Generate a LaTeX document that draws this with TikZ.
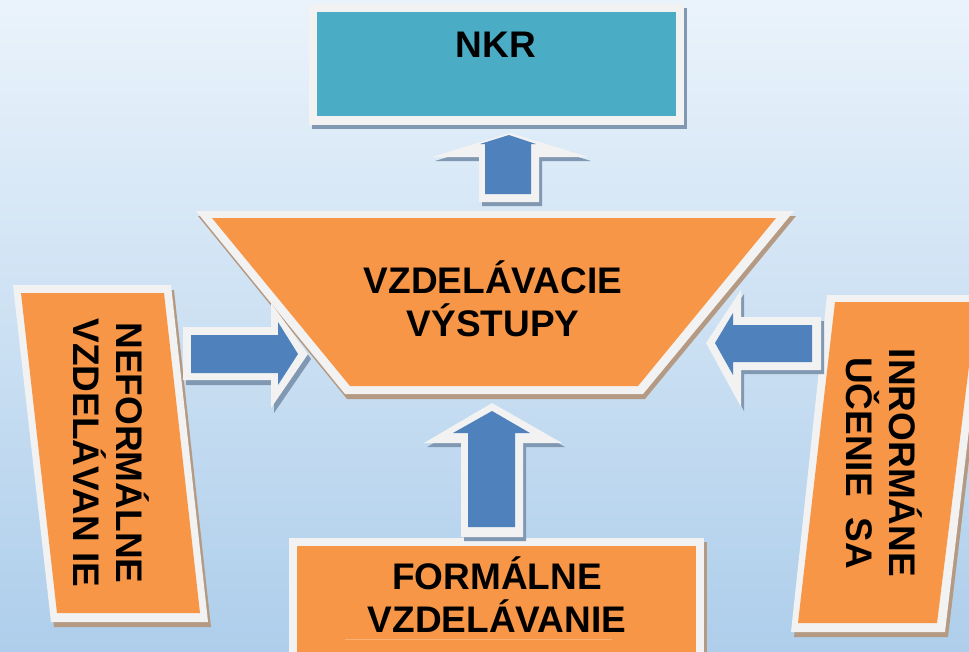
\documentclass[tikz,border=0pt]{standalone}
\usepackage{fontspec}
\setmainfont{Liberation Sans}
\definecolor{bgtop}{HTML}{EAF3FB}
\definecolor{bgbot}{HTML}{AECEEB}
\definecolor{boxorange}{HTML}{F79646}
\definecolor{boxteal}{HTML}{4BACC6}
\definecolor{arrowblue}{HTML}{4F81BD}
\definecolor{framewhite}{HTML}{F2F2F2}
\definecolor{orshadow}{HTML}{B59A83}
\definecolor{blshadow}{HTML}{8198B2}

\begin{document}
\begin{tikzpicture}[x=1pt,y=-1pt]
\tikzstyle{every node}+=[inner sep=0pt, align=center, font=\fontsize{37}{43}\selectfont\bfseries]
\useasboundingbox (0,0) rectangle (969,651);
\clip (0,0) rectangle (969,651);
\shade [top color=bgtop, bottom color=bgbot] (0,0) rectangle (969,651);
\fill [blshadow] (312,8) rectangle (687,129);
\fill [framewhite] (309,4) rectangle (684,125);
\fill [boxteal] (317,12) rectangle (676,116);
\node (nkr) at (496,45) {NKR};
\fill [orshadow, shift={(2,5)}] (196,211) -- (794,211) -- (643,394) -- (345,394) -- cycle;
\fill [framewhite] (196,211) -- (794,211) -- (643,394) -- (345,394) -- cycle;
\fill [boxorange] (212,218) -- (776,218) -- (638,386) -- (350,386) -- cycle;
\node (vystupy) at (493,299) {VZDELÁVACIE\\VÝSTUPY};
\fill [orshadow, shift={(3,5)}] (13,285) -- (171,285) -- (208,622) -- (51,622) -- cycle;
\fill [framewhite] (13,285) -- (171,285) -- (208,622) -- (51,622) -- cycle;
\fill [boxorange] (21,293) -- (164,293) -- (200,613) -- (57,613) -- cycle;
\node [rotate=-90] (neformalne) at (111,453) {NEFORMÁLNE\\VZDELÁVAN IE};
\fill [orshadow, shift={(3,5)}] (827,295) -- (985,295) -- (945,632) -- (791,632) -- cycle;
\fill [framewhite] (827,295) -- (985,295) -- (945,632) -- (791,632) -- cycle;
\fill [boxorange] (835,302) -- (977,302) -- (937,623) -- (798,623) -- cycle;
\node [rotate=-90] (informalne) at (884,463) {INRORMÁNE\\UČENIE\ \ SA};
\fill [orshadow] (292,542) rectangle (707,700);
\fill [framewhite] (289,538) rectangle (704,700);
\fill [boxorange] (297,546) rectangle (696,700);
\draw [boxorange!75!white, line width=0.4pt] (345,639) -- (612,639);
\node (formalne) at (497,595) {FORMÁLNE\\VZDELÁVANIE};
\fill [blshadow, shift={(3,4)}] (479,202) -- (479,157) -- (432,157) -- (510,133) -- (588,157) -- (539,157) -- (539,202) -- cycle;
\fill [framewhite] (479,202) -- (479,157) -- (432,157) -- (510,133) -- (588,157) -- (539,157) -- (539,202) -- cycle;
\fill [arrowblue] (485,194) -- (485,144) -- (480,144) -- (509,135) -- (536,144) -- (531,144) -- (531,194) -- cycle;
\fill [blshadow, shift={(3,5)}] (183,327) -- (271,327) -- (271,303) -- (308,354) -- (271,408) -- (271,380) -- (183,380) -- cycle;
\fill [framewhite] (183,327) -- (271,327) -- (271,303) -- (308,354) -- (271,408) -- (271,380) -- (183,380) -- cycle;
\fill [arrowblue] (191,335) -- (278,335) -- (278,322) -- (298,354) -- (278,385) -- (278,373) -- (191,373) -- cycle;
\fill [blshadow, shift={(3,4)}] (821,317) -- (741,317) -- (741,290) -- (706,343) -- (741,407) -- (741,370) -- (821,370) -- cycle;
\fill [framewhite] (821,317) -- (741,317) -- (741,290) -- (706,343) -- (741,407) -- (741,370) -- (821,370) -- cycle;
\fill [arrowblue] (812,325) -- (733,325) -- (733,313) -- (715,343) -- (733,375) -- (733,362) -- (812,362) -- cycle;
\fill [blshadow, shift={(3,4)}] (461,537) -- (461,443) -- (424,443) -- (492,403) -- (562,443) -- (523,443) -- (523,537) -- cycle;
\fill [framewhite] (461,537) -- (461,443) -- (424,443) -- (492,403) -- (562,443) -- (523,443) -- (523,537) -- cycle;
\fill [arrowblue] (468,527) -- (468,433) -- (453,433) -- (492,411) -- (530,433) -- (515,433) -- (515,527) -- cycle;
\end{tikzpicture}
\end{document}
